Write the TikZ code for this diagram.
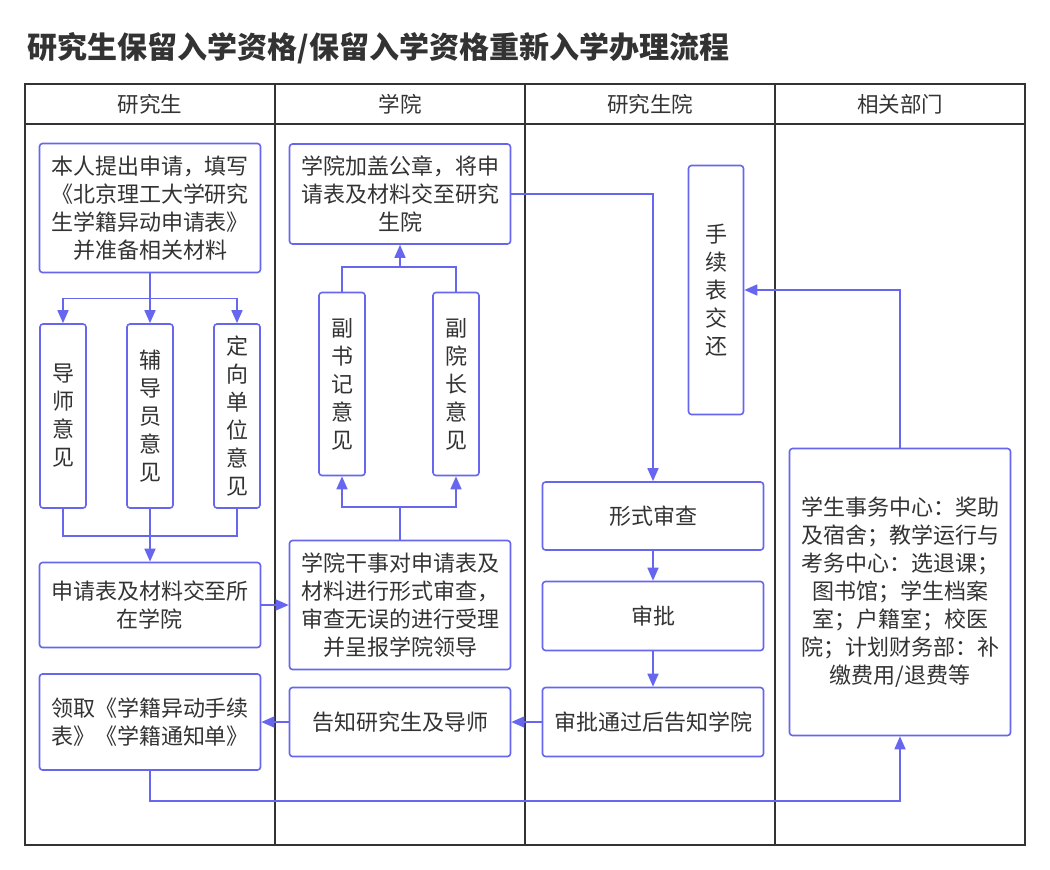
\documentclass[tikz,border=0pt]{standalone}
\usepackage{fontspec}
\setmainfont{Noto Sans CJK SC}
\usetikzlibrary{arrows.meta}
\definecolor{flowblue}{RGB}{102,102,238}
\definecolor{inkgray}{RGB}{51,51,51}
\begin{document}
\begin{tikzpicture}[x=1pt, y=-1pt,
        box/.style={draw=flowblue, line width=1.6pt, rounded corners=3pt,
          fill=white, text=inkgray, align=center, inner sep=0pt,
          minimum width=221pt, font=\fontsize{22}{28}\selectfont},
        vbox/.style={box, minimum width=46pt, minimum height=184pt},
        lane/.style={draw=inkgray, line width=1.6pt},
        header/.style={text=inkgray, font=\fontsize{21.5}{28}\selectfont},
        flow/.style={-{Triangle[length=13pt, width=11pt]}, draw=flowblue, line width=1.6pt},
        link/.style={draw=flowblue, line width=1.6pt}
      ]
      \useasboundingbox (0,0) rectangle (1050,870);

      \node[anchor=west, text=inkgray, font=\fontsize{30}{32}\selectfont\bfseries] (title) at (24,48)
        {研究生保留入学资格/保留入学资格重新入学办理流程};

      % swimlanes
      \draw[lane] (25,84) rectangle (1025,845);
      \draw[lane] (25,124) -- (1025,124);
      \foreach \x in {275,525,775}
        \draw[lane] (\x,84) -- (\x,845);
      \node[header] (hstudent) at (150,104) {研究生};
      \node[header] (hcollege) at (400,104) {学院};
      \node[header] (hschool) at (650,104) {研究生院};
      \node[header] (hdepts) at (900,104) {相关部门};

      % 研究生
      \node[box, minimum height=129pt] (apply) at (150,208)
        {本人提出申请，填写\\《北京理工大学研究\\生学籍异动申请表》\\并准备相关材料};
      \node[vbox] (tutor) at (63,416) {导\\师\\意\\见};
      \node[vbox] (counselor) at (150,416) {辅\\导\\员\\意\\见};
      \node[vbox] (unit) at (237,416) {定\\向\\单\\位\\意\\见};
      \node[box, minimum height=85pt] (submit) at (150,605) {申请表及材料交至所\\在学院};
      \node[box, minimum height=96pt] (collect) at (150,722) {领取《学籍异动手续\\表》《学籍通知单》};

      % 学院
      \node[box, minimum height=100pt] (seal) at (400,194)
        {学院加盖公章，将申\\请表及材料交至研究\\生院};
      \node[vbox, minimum height=183pt] (secretary) at (342,384) {副\\书\\记\\意\\见};
      \node[vbox, minimum height=183pt] (dean) at (456,384) {副\\院\\长\\意\\见};
      \node[box, minimum height=129pt] (check) at (400,605)
        {学院干事对申请表及\\材料进行形式审查，\\审查无误的进行受理\\并呈报学院领导};
      \node[box, minimum height=69pt] (inform) at (400,722) {告知研究生及导师};

      % 研究生院
      \node[box, minimum width=55pt, minimum height=249pt] (giveback) at (716,290) {手\\续\\表\\交\\还};
      \node[box, minimum height=68pt] (review) at (653,516) {形式审查};
      \node[box, minimum height=69pt] (approve) at (653,616) {审批};
      \node[box, minimum height=69pt] (notify) at (653,722) {审批通过后告知学院};

      % 相关部门
      \node[box, minimum height=287pt] (depts) at (900,592)
        {学生事务中心：奖助\\及宿舍；教学运行与\\考务中心：选退课；\\图书馆；学生档案\\室；户籍室；校医\\院；计划财务部：补\\缴费用/退费等};

      \draw[flow] (apply.south) -- ++(0,25) -| (tutor.north);
      \draw[flow] (apply.south) -- (counselor.north);
      \draw[flow] (apply.south) -- ++(0,25) -| (unit.north);
      \draw[link] (tutor.south) -- ++(0,27) -| (unit.south);
      \draw[flow] (counselor.south) -- (submit.north);
      \draw[flow] (submit) -- (check);
      \draw[flow] (check.north) -- ++(0,-33) -| (secretary.south);
      \draw[flow] (check.north) -- ++(0,-33) -| (dean.south);
      \draw[link] (secretary.north) -- ++(0,-25) -| (dean.north);
      \draw[flow] (dean.north) -- ++(0,-25) -| (seal.south);
      \draw[flow] (seal.east) -| (review.north);
      \draw[flow] (review) -- (approve);
      \draw[flow] (approve) -- (notify);
      \draw[flow] (notify) -- (inform);
      \draw[flow] (inform) -- (collect);
      \draw[flow] (collect.south) -- ++(0,30) -| (depts.south);
      \draw[flow] (depts.north) |- (giveback.east);
    \end{tikzpicture}
\end{document}
